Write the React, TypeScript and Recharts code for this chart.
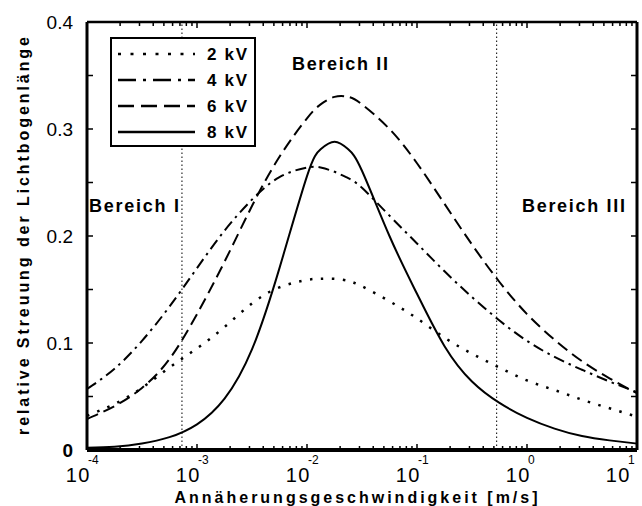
import React from 'react';
import { LineChart, Line, XAxis, YAxis, ReferenceLine, Legend } from 'recharts';

// approach velocity [m/s]
const velocity = [
  1e-4, 1.78e-4, 3.16e-4, 5.62e-4, 1e-3, 1.78e-3, 3.16e-3, 5.62e-3, 1e-2, 1.33e-2,
  1.78e-2, 2.37e-2, 3.16e-2, 5.62e-2, 0.1, 0.178, 0.316, 0.562, 1, 1.78, 3.16, 5.62, 10,
];
const kv2 = [0.032, 0.043, 0.058, 0.077, 0.095, 0.115, 0.137, 0.152, 0.159, 0.16, 0.16, 0.158, 0.153, 0.139, 0.123, 0.105, 0.09, 0.077, 0.065, 0.056, 0.047, 0.039, 0.031];
const kv4 = [0.057, 0.076, 0.102, 0.134, 0.17, 0.205, 0.234, 0.255, 0.264, 0.264, 0.26, 0.254, 0.245, 0.219, 0.193, 0.167, 0.143, 0.121, 0.102, 0.087, 0.075, 0.064, 0.054];
const kv6 = [0.029, 0.041, 0.058, 0.085, 0.127, 0.176, 0.228, 0.274, 0.31, 0.323, 0.33, 0.33, 0.323, 0.3, 0.268, 0.23, 0.192, 0.157, 0.127, 0.103, 0.083, 0.067, 0.053];
const kv8 = [0.002, 0.003, 0.006, 0.012, 0.024, 0.048, 0.094, 0.17, 0.256, 0.281, 0.288, 0.281, 0.261, 0.2, 0.146, 0.097, 0.064, 0.044, 0.03, 0.02, 0.013, 0.009, 0.006];

const seriesNames = ['2 kV', '4 kV', '6 kV', '8 kV'];
const regionBounds = [7.3e-4, 0.53];
const regionLabels = ['Bereich I', 'Bereich II', 'Bereich III'];
const yTicks = [0, 0.05, 0.1, 0.15, 0.2, 0.25, 0.3, 0.35, 0.4];
const yLabelTicks = [0, 0.1, 0.2, 0.3, 0.4];
const decades = [-4, -3, -2, -1, 0, 1];
const mantissas = [1, 2, 3, 4, 5, 6, 7, 8, 9];
const xTicks: number[] = [];
decades.forEach((d) => {
  mantissas.forEach((m) => {
    if (d < 1 || m === 1) xTicks.push(Number((m * Math.pow(10, d)).toPrecision(3)));
  });
});

const rows = velocity.map((v, i) => ({ v, kv2: kv2[i], kv4: kv4[i], kv6: kv6[i], kv8: kv8[i] }));

const FONT = '"Liberation Sans", Arial, Helvetica, sans-serif';

const lineStyles = [
  { key: 'kv2', dash: '2.5 8.5', width: 2.5, legendDash: '3 9.5' },
  { key: 'kv4', dash: '11 5 2.5 5', width: 2, legendDash: '18 7 3 7' },
  { key: 'kv6', dash: '12 6', width: 2, legendDash: '16 7' },
  { key: 'kv8', dash: undefined, width: 2, legendDash: undefined },
];

const isMajor = (v: number) => Math.abs(Math.log10(v) - Math.round(Math.log10(v))) < 1e-6;

const BottomTick = (props: any) => {
  const { x, y, payload } = props;
  const v = payload.value;
  const major = isMajor(v);
  const exp = Math.round(Math.log10(v));
  const shift = exp >= 1 ? -10 : 0;
  return (
    <g>
      <line x1={x} x2={x} y1={y} y2={y - (major ? 6 : 4)} stroke="#000" strokeWidth={1.5} />
      {major && (
        <>
          <text x={x + 4 + shift} y={y + 32} textAnchor="end" fontFamily={FONT} fontSize={20} letterSpacing={1.5} fill="#000">10</text>
          <text x={x + 1 + shift} y={y + 14} textAnchor="start" fontFamily={FONT} fontSize={12} fill="#000">{exp}</text>
        </>
      )}
    </g>
  );
};

const TopTick = (props: any) => {
  const { x, y, payload } = props;
  const major = isMajor(payload.value);
  return <line x1={x} x2={x} y1={y} y2={y + (major ? 6 : 4)} stroke="#000" strokeWidth={1.5} />;
};

const LeftTick = (props: any) => {
  const { x, y, payload } = props;
  const v = payload.value;
  const labeled = yLabelTicks.some((t) => Math.abs(t - v) < 1e-9);
  return (
    <g>
      <line x1={x} x2={x + 6} y1={y} y2={y} stroke="#000" strokeWidth={1.5} />
      {labeled && (
        <text x={x - 14} y={y + 7} textAnchor="end" fontFamily={FONT} fontSize={19} fontWeight={v === 0 ? 'bold' : 'normal'} fill="#000">
          {v === 0 ? '0' : String(v)}
        </text>
      )}
    </g>
  );
};

const RightTick = (props: any) => {
  const { x, y } = props;
  return <line x1={x} x2={x - 6} y1={y} y2={y} stroke="#000" strokeWidth={1.5} />;
};

const LegendBox = (props: any) => {
  const payload = props.payload || [];
  return (
    <svg width={146} height={110} style={{ display: 'block' }}>
      <rect x={1} y={1} width={144} height={108} fill="#fff" stroke="#000" strokeWidth={2} />
      {payload.map((p: any, i: number) => {
        const cy = 17 + i * 26;
        const st = lineStyles[i];
        return (
          <g key={i}>
            <line x1={8} x2={85} y1={cy} y2={cy} stroke="#000" strokeWidth={2.6} strokeDasharray={st.legendDash} />
            <text x={97} y={cy + 6} fontFamily={FONT} fontWeight="bold" fontSize={17} textLength={40} lengthAdjust="spacing" fill="#000">
              {p.value}
            </text>
          </g>
        );
      })}
    </svg>
  );
};

export default function App() {
  return (
    <div style={{ position: 'absolute', left: 0, top: 0, width: 642, height: 506, background: '#fff' }}>
      <LineChart width={642} height={506} data={rows} margin={{ top: 21, right: 4, bottom: 55, left: 86 }}>
        <XAxis
          xAxisId="b"
          dataKey="v"
          type="number"
          scale="log"
          domain={[1e-4, 10]}
          allowDataOverflow
          ticks={xTicks}
          interval={0}
          height={1}
          tickSize={0}
          tickMargin={0}
          tickLine={false}
          axisLine={{ stroke: '#000', strokeWidth: 4 }}
          tick={<BottomTick />}
        />
        <XAxis
          xAxisId="t"
          orientation="top"
          dataKey="v"
          type="number"
          scale="log"
          domain={[1e-4, 10]}
          allowDataOverflow
          ticks={xTicks}
          interval={0}
          height={1}
          tickSize={0}
          tickMargin={0}
          tickLine={false}
          axisLine={{ stroke: '#000', strokeWidth: 2.5 }}
          tick={<TopTick />}
        />
        <YAxis
          yAxisId="l"
          type="number"
          domain={[0, 0.4]}
          allowDataOverflow
          ticks={yTicks}
          interval={0}
          width={1}
          tickSize={0}
          tickMargin={0}
          tickLine={false}
          axisLine={{ stroke: '#000', strokeWidth: 3 }}
          tick={<LeftTick />}
        />
        <YAxis
          yAxisId="r"
          orientation="right"
          type="number"
          domain={[0, 0.4]}
          allowDataOverflow
          ticks={yTicks}
          interval={0}
          width={1}
          tickSize={0}
          tickMargin={0}
          tickLine={false}
          axisLine={{ stroke: '#000', strokeWidth: 3 }}
          tick={<RightTick />}
        />
        {regionBounds.map((b) => (
          <ReferenceLine key={b} xAxisId="b" yAxisId="l" x={b} stroke="#000" strokeWidth={1} strokeDasharray="1.5 2.5" />
        ))}
        {lineStyles.map((s, i) => (
          <Line
            key={s.key}
            xAxisId="b"
            yAxisId="l"
            dataKey={s.key}
            name={seriesNames[i]}
            type="natural"
            stroke="#000"
            strokeWidth={s.width}
            strokeDasharray={s.dash}
            dot={false}
            activeDot={false}
            isAnimationActive={false}
          />
        ))}
        <Legend
          layout="vertical"
          align="center"
          verticalAlign="middle"
          wrapperStyle={{ position: 'absolute', left: 110, top: 37, width: 146, height: 110 }}
          content={<LegendBox />}
        />
      </LineChart>
      <svg width={642} height={506} style={{ position: 'absolute', left: 0, top: 0, pointerEvents: 'none' }}>
        <text x={89} y={212} fontFamily={FONT} fontWeight="bold" fontSize={18} textLength={90} lengthAdjust="spacing" fill="#000">{regionLabels[0]}</text>
        <text x={292} y={70} fontFamily={FONT} fontWeight="bold" fontSize={18} textLength={96} lengthAdjust="spacing" fill="#000">{regionLabels[1]}</text>
        <text x={522} y={212} fontFamily={FONT} fontWeight="bold" fontSize={18} textLength={103} lengthAdjust="spacing" fill="#000">{regionLabels[2]}</text>
        <text x={356} y={503} textAnchor="middle" fontFamily={FONT} fontWeight="bold" fontSize={16} textLength={363} lengthAdjust="spacing" fill="#000">
          Annäherungsgeschwindigkeit [m/s]
        </text>
        <text transform="translate(29,236) rotate(-90)" textAnchor="middle" fontFamily={FONT} fontWeight="bold" fontSize={16} textLength={398} lengthAdjust="spacing" fill="#000">
          relative Streuung der Lichtbogenlänge
        </text>
      </svg>
    </div>
  );
}
